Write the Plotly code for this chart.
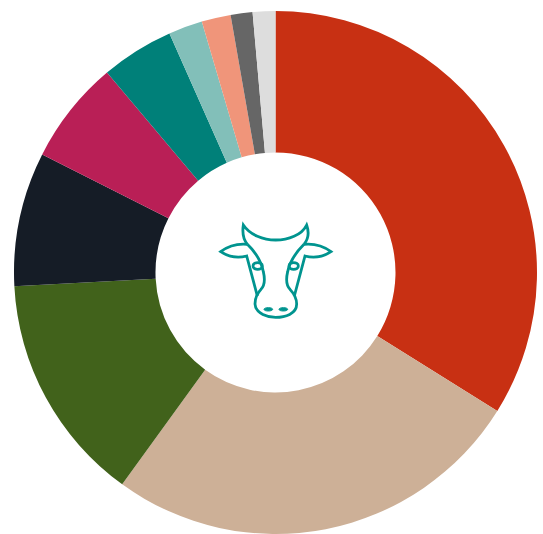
import re
import plotly.graph_objects as go

W, H = 543, 534
categories = ["A", "B", "C", "D", "E", "F", "G", "H", "I", "J"]
values = [33.9, 26.1, 14.2, 8.3, 6.4, 4.5, 2.1, 1.8, 1.35, 1.4]
colors = ["#c83013", "#cdb097", "#41621b", "#151c26", "#b91f56",
          "#008079", "#82bfb9", "#f0957a", "#666666", "#dddddd"]

CX, CY, R = 275.5, 272.5, 261.5
ICON = "#00948f"


def to_paper(path):
    """Icon path given in zoom-crop units -> paper coordinates."""
    nums = iter(re.findall(r"[A-Za-z]|-?[\d.]+", path))
    out, is_x = [], True
    for tok in nums:
        if tok.isalpha():
            out.append(tok)
            is_x = True
        elif is_x:
            out.append(f"{(205 + float(tok) / 3) / W:.5f}")
            is_x = False
        else:
            out.append(f"{1 - (210 + float(tok) / 3) / H:.5f}")
            is_x = True
    return " ".join(out)


def ellipse(cx, cy, rx, ry):
    return (f"M {cx-rx} {cy} C {cx-rx} {cy-ry*1.33} {cx+rx} {cy-ry*1.33} {cx+rx} {cy} "
            f"C {cx+rx} {cy+ry*1.33} {cx-rx} {cy+ry*1.33} {cx-rx} {cy} Z")


icon_paths = [
    "M 127 103 C 112 85 112 65 115 45 C 135 75 175 90 212 90 C 250 90 290 75 305 45 "
    "C 312 65 312 85 297 103",
    "M 127 103 C 95 100 70 108 47 125 C 70 140 100 145 125 138 L 157 258",
    "M 297 103 C 330 100 355 108 378 125 C 355 140 325 145 300 138 L 268 258",
    "M 127 103 C 150 125 168 150 175 185 C 182 215 178 228 168 238 C 155 252 150 265 150 282 "
    "C 152 312 190 322 212 322 C 240 322 275 312 275 282 C 275 265 268 252 255 238 "
    "C 245 228 241 215 248 185 C 255 150 275 125 297 103",
    ellipse(158, 168, 14, 10),
    ellipse(266, 168, 14, 10),
]
nostrils = [ellipse(190, 298, 13, 5), ellipse(235, 298, 13, 5)]

shapes = [dict(type="path", xref="paper", yref="paper", path=to_paper(p),
               line=dict(color=ICON, width=2.8), layer="above") for p in icon_paths]
shapes += [dict(type="path", xref="paper", yref="paper", path=to_paper(p), fillcolor=ICON,
                line=dict(color=ICON, width=1), layer="above") for p in nostrils]

fig = go.Figure(go.Pie(
    labels=categories, values=values, sort=False, direction="clockwise", rotation=0,
    hole=120 / R, textinfo="none", hoverinfo="label+value",
    marker=dict(colors=colors, line=dict(width=0)),
    domain=dict(x=[(CX - R) / W, (CX + R) / W], y=[1 - (CY + R) / H, 1 - (CY - R) / H]),
))
fig.update_layout(width=W, height=H, margin=dict(l=0, r=0, t=0, b=0),
                  paper_bgcolor="white", showlegend=False, shapes=shapes)
fig.write_html("out.html", config=dict(displayModeBar=False),
               post_script="document.body.style.margin='0';document.body.style.overflow='hidden';")
